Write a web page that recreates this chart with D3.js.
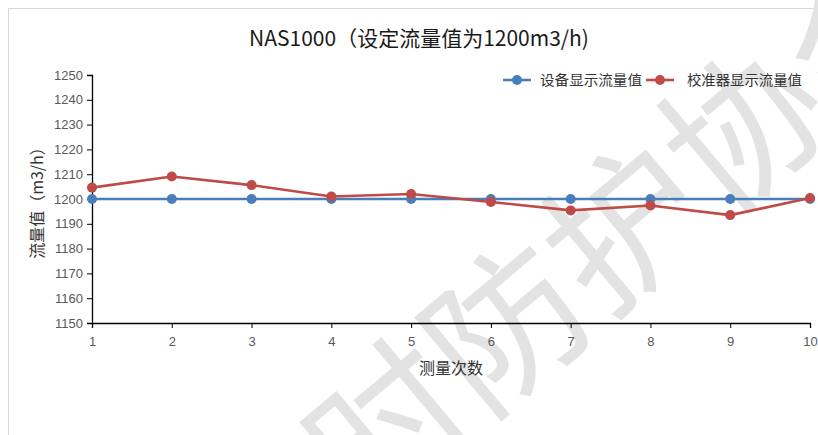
<!DOCTYPE html>
<html>
<head>
<meta charset="utf-8">
<script src="https://cdn.jsdelivr.net/npm/d3@7"></script>
<style>
  html, body { margin: 0; padding: 0; background: #fff; }
  svg { display: block; }
  text { font-family: "Liberation Sans Narrow", "Noto Sans CJK SC", sans-serif; }
  .cjk { font-family: "Noto Sans CJK SC", sans-serif; }
</style>
</head>
<body>
<svg id="chart" width="818" height="435"></svg>
<script>
// Measurement runs 1..10
const runs = [1, 2, 3, 4, 5, 6, 7, 8, 9, 10];
// Flow shown by the device (m3/h)
const deviceFlow = [1200, 1200, 1200, 1200, 1200, 1200, 1200, 1200, 1200, 1200];
// Flow shown by the calibrator (m3/h)
const calibratorFlow = [1204.6, 1209.1, 1205.6, 1201.0, 1202.0, 1198.8, 1195.4, 1197.4, 1193.5, 1200.4];
const yTicks = [1150, 1160, 1170, 1180, 1190, 1200, 1210, 1220, 1230, 1240, 1250];
const seriesNames = ["设备显示流量值", "校准器显示流量值"];
const seriesColors = ["#4a7ebb", "#be4b48"];
const titleText = "NAS1000（设定流量值为1200m3/h)";
const xLabel = "测量次数";
const yLabel = "流量值（m3/h）";
const watermark = "时防护协会";

const svg = d3.select("#chart");

// outer chart frame
svg.append("rect")
  .attr("x", 8.5).attr("y", 8.5)
  .attr("width", 830).attr("height", 450)
  .attr("fill", "#fff").attr("stroke", "#d9d9d9").attr("stroke-width", 1);

// diagonal document watermark, behind the chart content
svg.append("text")
  .attr("class", "cjk")
  .attr("transform", "translate(365,520) rotate(-40)")
  .attr("font-size", 155)
  .attr("font-weight", 400)
  .attr("fill", "#e3e3e3")
  .text(watermark);

const plot = { left: 92, right: 810, top: 75, bottom: 323 };

const x = d3.scaleLinear().domain([1, 10]).range([plot.left, plot.right]);
const y = d3.scaleLinear().domain([1150, 1250]).range([plot.bottom, plot.top]);

// title
svg.append("text")
  .attr("class", "cjk")
  .attr("x", 419).attr("y", 46)
  .attr("text-anchor", "middle")
  .attr("font-size", 21)
  .attr("fill", "#1a1a1a")
  .text(titleText);

// y axis
const yAxis = svg.append("g")
  .attr("transform", `translate(${plot.left},0)`)
  .call(d3.axisLeft(y).tickValues(yTicks).tickSize(5).tickPadding(4).tickFormat(d3.format("d")));
yAxis.select(".domain").attr("stroke", "#000").attr("stroke-width", 1.3);
yAxis.selectAll(".tick line").attr("stroke", "#000");
yAxis.selectAll(".tick text")
  .attr("font-size", 13).attr("fill", "#595959")
  .style("font-family", "'Liberation Sans Narrow', sans-serif");

// x axis
const xAxis = svg.append("g")
  .attr("transform", `translate(0,${plot.bottom})`)
  .call(d3.axisBottom(x).tickValues(runs).tickSize(5).tickPadding(9).tickFormat(d3.format("d")));
xAxis.select(".domain").attr("stroke", "#000").attr("stroke-width", 1.3);
xAxis.selectAll(".tick line").attr("stroke", "#000");
xAxis.selectAll(".tick text")
  .attr("font-size", 13).attr("fill", "#595959")
  .style("font-family", "'Liberation Sans Narrow', sans-serif");

// axis titles
svg.append("text")
  .attr("class", "cjk")
  .attr("x", (plot.left + plot.right) / 2).attr("y", 374)
  .attr("text-anchor", "middle")
  .attr("font-size", 16)
  .attr("fill", "#333")
  .text(xLabel);

svg.append("text")
  .attr("class", "cjk")
  .attr("transform", `translate(43,${(plot.top + plot.bottom) / 2}) rotate(-90)`)
  .attr("text-anchor", "middle")
  .attr("font-size", 16)
  .attr("fill", "#333")
  .text(yLabel);

// series
const series = [deviceFlow, calibratorFlow];
const line = d3.line().x((d, i) => x(runs[i])).y(d => y(d));

series.forEach((vals, s) => {
  const g = svg.append("g");
  g.append("path")
    .datum(vals)
    .attr("d", line)
    .attr("fill", "none")
    .attr("stroke", seriesColors[s])
    .attr("stroke-width", 2.6)
    .attr("stroke-linejoin", "round");
  g.selectAll("circle")
    .data(vals)
    .join("circle")
    .attr("cx", (d, i) => x(runs[i]))
    .attr("cy", d => y(d))
    .attr("r", 5)
    .attr("fill", seriesColors[s]);
});

// legend
const legendItems = [
  { x: 503, w: 28, tx: 540, tw: 102 },
  { x: 646, w: 28, tx: 687, tw: 115 }
];
legendItems.forEach((it, s) => {
  const g = svg.append("g");
  g.append("line")
    .attr("x1", it.x).attr("x2", it.x + it.w)
    .attr("y1", 80).attr("y2", 80)
    .attr("stroke", seriesColors[s]).attr("stroke-width", 2.6);
  g.append("circle")
    .attr("cx", it.x + it.w / 2).attr("cy", 80).attr("r", 5)
    .attr("fill", seriesColors[s]);
  g.append("text")
    .attr("class", "cjk")
    .attr("x", it.tx).attr("y", 85)
    .attr("font-size", 14)
    .attr("textLength", it.tw)
    .attr("lengthAdjust", "spacingAndGlyphs")
    .attr("fill", "#333")
    .text(seriesNames[s]);
});
</script>
</body>
</html>
